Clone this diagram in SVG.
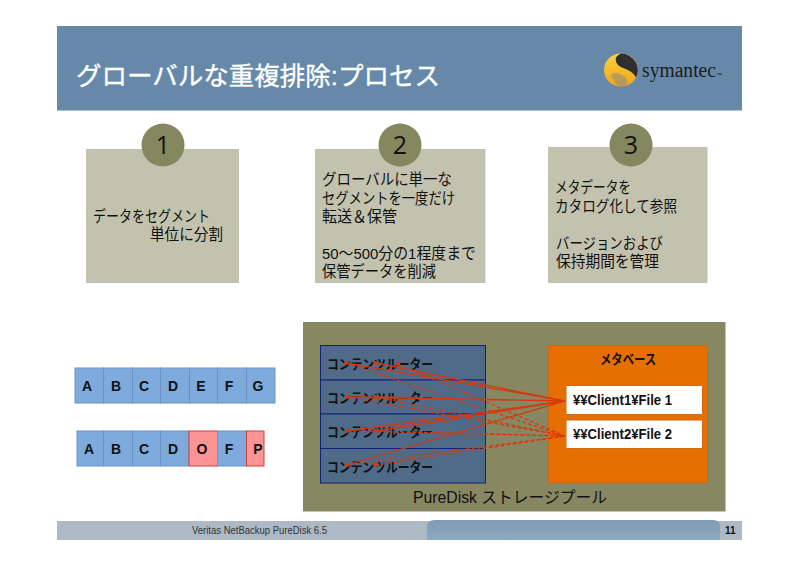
<svg xmlns="http://www.w3.org/2000/svg" width="800" height="566" viewBox="0 0 800 566">
<style>
text{font-family:"Liberation Sans","Noto Sans CJK JP",sans-serif;fill:#111}
.body{font-size:15.5px}
.num{font-size:25px;font-family:"Open Sans","Liberation Sans",sans-serif;text-anchor:middle}
.card{fill:#c2c2ae}
.badge{fill:#85875f}
.cell{fill:#7eaadc;stroke:#6b94c4;stroke-width:1}
.red{fill:#fc9496;stroke:#c8403f;stroke-width:1}
.ct{font-size:14px;font-weight:bold;text-anchor:middle}
.row{fill:#4f6b88;stroke:#14217c;stroke-width:1}
.rt{font-size:13.5px;font-weight:bold}
.s{stroke:#d5390f;stroke-width:1.3;fill:none}
.d{stroke:#d5390f;stroke-width:1.3;fill:none;stroke-dasharray:3.5 2.5}
.file{fill:#fff;stroke:#d2690f;stroke-width:1}
.ft{font-size:14.5px;font-weight:bold}
</style>
<defs>
<linearGradient id="bar" x1="0" y1="0" x2="0" y2="1"><stop offset="0" stop-color="#7f9cb6"/><stop offset="1" stop-color="#8ea9c0"/></linearGradient>
<linearGradient id="ball" x1="0" y1="0" x2="0" y2="1"><stop offset="0" stop-color="#ffd23c"/><stop offset="1" stop-color="#eca51c"/></linearGradient>
</defs>
<rect width="800" height="566" fill="#fff"/>
<g id="header">
<rect x="57" y="26" width="685" height="84.500" fill="#6789a9"/>
<text x="76" y="85" font-size="25.500" textLength="364" lengthAdjust="spacingAndGlyphs" style="fill:#fff;stroke:#fff;stroke-width:.35">グローバルな重複排除:プロセス</text>
<ellipse cx="621" cy="70" rx="17" ry="16.500" fill="url(#ball)"/>
<path d="M621 53.500a17 16.500 0 0 1 15 24c-3-6-9-8-14-10-5-2-7-6-6-10 1-2 3-3 5-4z" fill="#2f2f2f"/>
<path d="M611 75c3-3 7-2 11 0 4 2 6 6 5 10-1 1-4 1-6 1-4 0-8-6-10-11z" fill="#8a8a86" opacity=".55"/>
<text x="642" y="77" font-size="20" textLength="74" lengthAdjust="spacingAndGlyphs" style="font-family:'Liberation Serif',serif;fill:#1c1c1c">symantec</text>
<text x="716" y="77" font-size="6" style="fill:#1c1c1c">™</text>
</g>
<g id="step1">
<rect class="card" x="86" y="149" width="153" height="134"/>
<circle class="badge" cx="163" cy="145" r="21.500"/>
<text class="num" x="163" y="154">1</text>
<text class="body" x="93" y="222" textLength="117" lengthAdjust="spacingAndGlyphs">データをセグメント</text>
<text class="body" x="150" y="240" textLength="73" lengthAdjust="spacingAndGlyphs">単位に分割</text>
</g>
<g id="step2">
<rect class="card" x="315" y="149" width="170.500" height="134"/>
<circle class="badge" cx="400" cy="145" r="21.500"/>
<text class="num" x="400" y="154">2</text>
<text class="body" x="322" y="185" textLength="130" lengthAdjust="spacingAndGlyphs">グローバルに単一な</text>
<text class="body" x="322" y="204" textLength="133" lengthAdjust="spacingAndGlyphs">セグメントを一度だけ</text>
<text class="body" x="322" y="222" textLength="75" lengthAdjust="spacingAndGlyphs">転送＆保管</text>
<text class="body" x="322" y="259" textLength="154" lengthAdjust="spacingAndGlyphs">50～500分の1程度まで</text>
<text class="body" x="322" y="277" textLength="114" lengthAdjust="spacingAndGlyphs">保管データを削減</text>
</g>
<g id="step3">
<rect class="card" x="548" y="147" width="159.500" height="136"/>
<circle class="badge" cx="631" cy="145" r="21.500"/>
<text class="num" x="631" y="154">3</text>
<text class="body" x="555" y="193" textLength="76" lengthAdjust="spacingAndGlyphs">メタデータを</text>
<text class="body" x="555" y="212" textLength="122" lengthAdjust="spacingAndGlyphs">カタログ化して参照</text>
<text class="body" x="556" y="249" textLength="107" lengthAdjust="spacingAndGlyphs">バージョンおよび</text>
<text class="body" x="556" y="267" textLength="103" lengthAdjust="spacingAndGlyphs">保持期間を管理</text>
</g>
<g id="segments-original">
<rect class="cell" x="75" y="368" width="28.500" height="35"/><text class="ct" x="87" y="391">A</text>
<rect class="cell" x="103.500" y="368" width="29" height="35"/><text class="ct" x="116" y="391">B</text>
<rect class="cell" x="132.500" y="368" width="28" height="35"/><text class="ct" x="144" y="391">C</text>
<rect class="cell" x="160.500" y="368" width="29" height="35"/><text class="ct" x="173" y="391">D</text>
<rect class="cell" x="189.500" y="368" width="28" height="35"/><text class="ct" x="201" y="391">E</text>
<rect class="cell" x="217.500" y="368" width="29" height="35"/><text class="ct" x="229" y="391">F</text>
<rect class="cell" x="246.500" y="368" width="28.500" height="35"/><text class="ct" x="258" y="391">G</text>
</g>
<g id="segments-changed">
<rect class="cell" x="77" y="431" width="26.500" height="35"/><text class="ct" x="89" y="454">A</text>
<rect class="cell" x="103.500" y="431" width="29" height="35"/><text class="ct" x="116" y="454">B</text>
<rect class="cell" x="132.500" y="431" width="28" height="35"/><text class="ct" x="144" y="454">C</text>
<rect class="cell" x="160.500" y="431" width="28.500" height="35"/><text class="ct" x="173" y="454">D</text>
<rect class="red" x="189" y="431" width="28.500" height="35"/><text class="ct" x="202" y="454">O</text>
<rect class="cell" x="217.500" y="431" width="29" height="35"/><text class="ct" x="229" y="454">F</text>
<rect class="red" x="246.500" y="431" width="17.500" height="35"/><text class="ct" x="258" y="454">P</text>
</g>
<g id="pool">
<rect x="303" y="322" width="422.500" height="189.500" fill="#878762"/>
<text x="413" y="503" font-size="16" textLength="194" lengthAdjust="spacingAndGlyphs">PureDisk ストレージプール</text>
</g>
<g id="routers">
<rect class="row" x="320.500" y="345.500" width="165" height="34.500"/>
<rect class="row" x="320.500" y="380" width="165" height="34"/>
<rect class="row" x="320.500" y="414" width="165" height="34.500"/>
<rect class="row" x="320.500" y="448.500" width="165" height="34.500"/>
<text class="rt" x="327" y="369" textLength="106" lengthAdjust="spacingAndGlyphs">コンテンツルーター</text>
<text class="rt" x="327" y="403" textLength="106" lengthAdjust="spacingAndGlyphs">コンテンツルーター</text>
<text class="rt" x="327" y="437" textLength="106" lengthAdjust="spacingAndGlyphs">コンテンツルーター</text>
<text class="rt" x="327" y="472" textLength="106" lengthAdjust="spacingAndGlyphs">コンテンツルーター</text>
</g>
<g id="metabase">
<rect x="548.500" y="345.500" width="159" height="137.500" fill="#e56f00" stroke="#c9661a"/>
<text x="600" y="364" font-size="13.500" font-weight="bold" textLength="56" lengthAdjust="spacingAndGlyphs">メタベース</text>
</g>
<g id="file1">
<rect class="file" x="566" y="385.500" width="136.500" height="29"/>
<text class="ft" x="573" y="405" textLength="99" lengthAdjust="spacingAndGlyphs">¥¥Client1¥File 1</text>
</g>
<g id="file2">
<rect class="file" x="566" y="420" width="136.500" height="28.500"/>
<text class="ft" x="573" y="439" textLength="99" lengthAdjust="spacingAndGlyphs">¥¥Client2¥File 2</text>
</g>
<g id="connectors">
<path class="s" d="M346 363L565 401M376 363L565 401M347 397L565 401M376 397L565 401M347 431L565 401M376 431L565 401M347 465L565 401"/>
<path class="d" d="M346 363L565 436M398 364L565 436M347 397L565 436M376 397L565 436M347 431L565 436M376 431L565 436M347 465L565 436M376 465L565 436"/>
<g fill="#d5390f">
<circle cx="346" cy="363" r="2"/><circle cx="376" cy="363" r="2"/><circle cx="398" cy="364" r="2"/>
<circle cx="347" cy="397" r="2"/><circle cx="376" cy="397" r="2"/>
<circle cx="347" cy="431" r="2"/><circle cx="376" cy="431" r="2"/>
<circle cx="347" cy="465" r="2"/><circle cx="376" cy="465" r="2"/>
</g>
</g>
<g id="footer">
<rect x="57" y="521" width="685" height="19" fill="#adb9c5"/>
<path d="M427 540V527q0-7 8-7H713q7 0 7 7V540z" fill="url(#bar)"/>
<text x="192" y="534" font-size="10.500" textLength="135" lengthAdjust="spacingAndGlyphs" style="fill:#333">Veritas NetBackup PureDisk 6.5</text>
<text x="725" y="534" font-size="10" font-weight="bold">11</text>
</g>
</svg>
